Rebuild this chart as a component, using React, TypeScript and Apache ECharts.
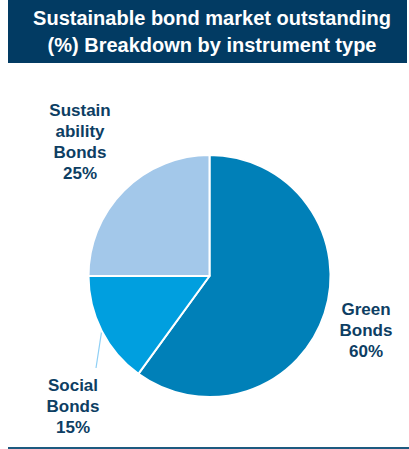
import React, { useEffect, useRef } from "react";
import * as echarts from "echarts";

const categories = ["Green Bonds", "Social Bonds", "Sustainability Bonds"];
const labelNames = ["Green\nBonds", "Social\nBonds", "Sustain\nability\nBonds"];
const values = [60, 15, 25];
const colors = ["#0080B8", "#009FDF", "#A3C8EA"];
const labelPos = [
  { x: 366, y: 330 },
  { x: 73, y: 406 },
  { x: 80, y: 142 },
];
const titleLines = ["Sustainable bond market outstanding", "(%) Breakdown by instrument type"];

export default function App() {
  const ref = useRef<HTMLDivElement>(null);
  useEffect(() => {
    document.body.style.margin = "0";
    const chart = echarts.init(ref.current!, null, { renderer: "svg" });
    chart.setOption({
      animation: false,
      backgroundColor: "#ffffff",
      graphic: [
        { type: "rect", shape: { x: 8, y: 0, width: 399, height: 63 }, style: { fill: "#023B63" }, z: 1 },
        {
          type: "text",
          x: 212,
          y: 31,
          z: 2,
          style: {
            text: titleLines.join("\n"),
            fill: "#ffffff",
            font: "bold 20px Arial, 'Liberation Sans', sans-serif",
            align: "center",
            verticalAlign: "middle",
            lineHeight: 27,
          },
        },
        { type: "line", shape: { x1: 8, y1: 448, x2: 409, y2: 448 }, style: { stroke: "#1D5A80", lineWidth: 2 } },
      ],
      series: [
        {
          type: "pie",
          center: [209.5, 276],
          radius: 121,
          startAngle: 90,
          clockwise: true,
          itemStyle: { borderColor: "#ffffff", borderWidth: 2 },
          label: {
            show: true,
            position: "outside",
            formatter: (p: any) => `${labelNames[p.dataIndex]}\n${p.value}%`,
            color: "#0D3E63",
            fontFamily: "Arial, 'Liberation Sans', sans-serif",
            fontWeight: "bold",
            fontSize: 17,
            lineHeight: 21,
            align: "center",
          },
          labelLine: { show: true, length: 10, length2: 0, lineStyle: { color: "#8ECFF5", width: 1.2 } },
          labelLayout: (p: any) => {
            const out: any = {
              x: labelPos[p.dataIndex].x,
              y: labelPos[p.dataIndex].y,
              align: "center",
              verticalAlign: "middle",
            };
            if (p.dataIndex === 1 && p.labelLinePoints && p.labelLinePoints.length) {
              const s = p.labelLinePoints[0];
              out.labelLinePoints = [s, [96, 368], [96, 368]];
            }
            return out;
          },
          data: categories.map((c, i) => ({
            name: c,
            value: values[i],
            itemStyle: { color: colors[i] },
            labelLine: { show: i === 1 },
          })),
        },
      ],
    });
    return () => chart.dispose();
  }, []);
  return <div ref={ref} style={{ width: 409, height: 449 }} />;
}
